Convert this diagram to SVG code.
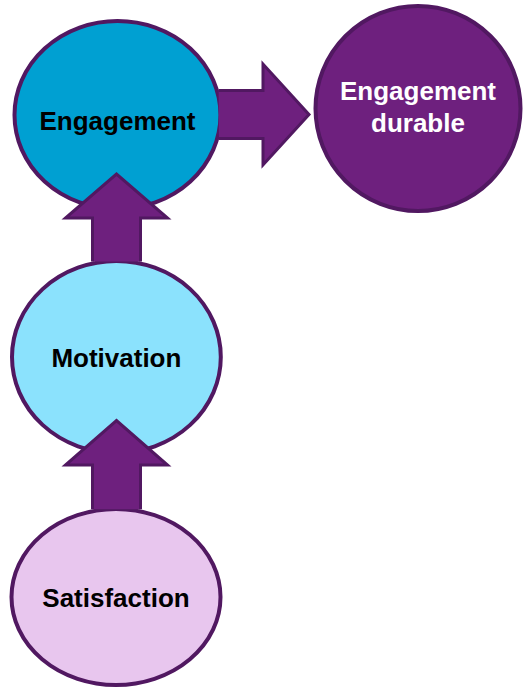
<svg xmlns="http://www.w3.org/2000/svg" width="524" height="690" viewBox="0 0 524 690">
  <style>
    .node { stroke: #511861; stroke-width: 4; }
    .lbl { font-family: "Liberation Sans", Arial, sans-serif; font-weight: bold; font-size: 26px; text-anchor: middle; }
    .arrow { fill: #6E207E; stroke: #511861; stroke-width: 3; stroke-linejoin: miter; }
  </style>
  <rect width="524" height="690" fill="#FFFFFF"/>
  <g id="node-engagement">
    <ellipse class="node" cx="117.5" cy="115" rx="103" ry="94" fill="#00A0D2"/>
    <text class="lbl" x="117.5" y="130" fill="#000000">Engagement</text>
  </g>
  <g id="node-motivation">
    <ellipse class="node" cx="116.4" cy="357" rx="104.4" ry="96" fill="#8BE2FD"/>
    <text class="lbl" x="116.4" y="366.5" fill="#000000">Motivation</text>
  </g>
  <g id="node-satisfaction">
    <ellipse class="node" cx="116" cy="597" rx="104.5" ry="88" fill="#E8C6EE"/>
    <text class="lbl" x="116" y="606.5" fill="#000000">Satisfaction</text>
  </g>
  <g id="node-durable">
    <circle class="node" cx="418" cy="108.5" r="102.5" fill="#6E207E"/>
    <text class="lbl" x="418" y="100" fill="#FFFFFF">Engagement</text>
    <text class="lbl" x="418" y="132" fill="#FFFFFF">durable</text>
  </g>
  <g id="connectors">
    <path class="arrow" d="M 218.6 90.5 L 263 90.5 L 263 64 L 309 114.5 L 263 165 L 263 138.5 L 218.9 138.5"/>
    <path class="arrow" d="M 92.5 261.5 L 92.5 218 L 65.5 218 L 116.5 174 L 167.5 218 L 140.5 218 L 140.5 261.5"/>
    <path class="arrow" d="M 92.5 509.3 L 92.5 465 L 65.5 465 L 116.5 420.5 L 167.5 465 L 140.5 465 L 140.5 509.3"/>
  </g>
</svg>
